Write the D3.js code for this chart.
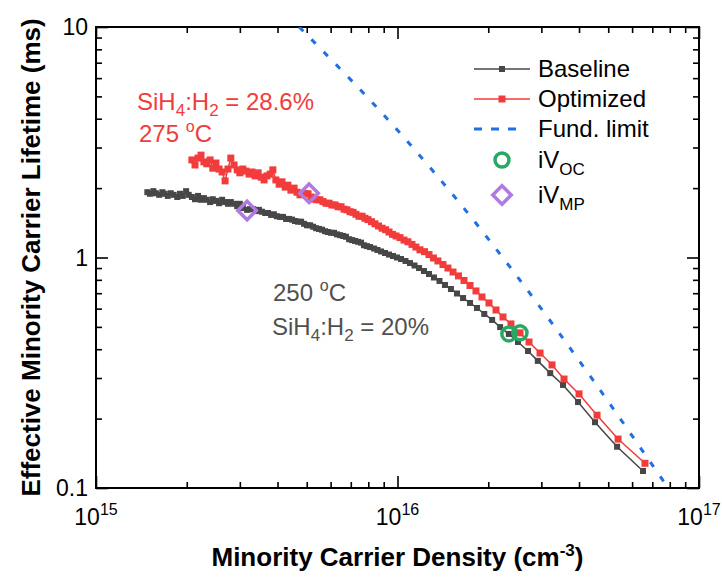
<!DOCTYPE html>
<html>
<head>
<meta charset="utf-8">
<script src="https://cdn.jsdelivr.net/npm/d3@7"></script>
<style>
  html, body { margin: 0; padding: 0; background: #fff; }
  svg { display: block; font-family: "Liberation Sans", Arial, Helvetica, sans-serif; }
</style>
</head>
<body>
<svg id="chart" width="722" height="581"></svg>
<script>
// ---- data: minority carrier density (cm^-3) and effective lifetime (ms) ----
const baselineDensity = [
  1.48e15,1.51e15,1.55e15,1.58e15,1.62e15,1.66e15,1.69e15,1.73e15,1.77e15,1.81e15,
  1.86e15,1.90e15,1.94e15,1.99e15,2.03e15,2.08e15,2.13e15,2.18e15,2.23e15,2.28e15,
  2.33e15,2.39e15,2.44e15,2.50e15,2.56e15,2.62e15,2.68e15,2.74e15,2.80e15,2.87e15,
  2.94e15,3.00e15,3.07e15,3.17e15,3.24e15,3.32e15,3.39e15,3.47e15,3.55e15,3.64e15,
  3.72e15,3.81e15,3.89e15,3.98e15,4.08e15,4.17e15,4.27e15,4.37e15,4.47e15,4.57e15,
  4.68e15,4.79e15,4.90e15,5.01e15,5.13e15,5.25e15,5.37e15,5.49e15,5.62e15,5.75e15,
  5.88e15,6.02e15,6.16e15,6.30e15,6.45e15,6.60e15,6.75e15,6.91e15,7.07e15,7.23e15,
  7.40e15,7.57e15,7.74e15,7.92e15,8.11e15,8.36e15,8.58e15,8.82e15,9.09e15,9.37e15,
  9.66e15,9.96e15,1.027e16,1.063e16,1.100e16,1.139e16,1.179e16,1.224e16,1.272e16,1.321e16,
  1.378e16,1.437e16,1.504e16,1.575e16,1.65e16,1.74e16,1.835e16,1.94e16,2.06e16,2.19e16,
  2.34e16,2.51e16,2.71e16,2.92e16,3.21e16,3.54e16,3.97e16,4.52e16,5.35e16,6.52e16
];
const baselineLifetime = [
  1.92,1.89,1.94,1.90,1.87,1.92,1.89,1.85,1.90,1.87,
  1.83,1.89,1.85,1.94,1.87,1.83,1.79,1.85,1.78,1.81,
  1.78,1.74,1.79,1.76,1.72,1.78,1.74,1.71,1.74,1.71,
  1.67,1.71,1.64,1.61,1.62,1.62,1.59,1.61,1.58,1.56,
  1.56,1.53,1.54,1.51,1.50,1.50,1.47,1.47,1.46,1.44,
  1.43,1.43,1.40,1.38,1.38,1.36,1.34,1.33,1.32,1.30,
  1.29,1.28,1.28,1.26,1.25,1.24,1.23,1.20,1.19,1.18,
  1.17,1.16,1.13,1.12,1.11,1.094,1.078,1.062,1.046,1.030,
  1.015,1.000,0.985,0.966,0.946,0.923,0.900,0.874,0.848,0.819,
  0.791,0.760,0.730,0.698,0.667,0.635,0.604,0.569,0.536,0.499,
  0.466,0.430,0.393,0.356,0.315,0.280,0.236,0.193,0.151,0.1185
];

const optimizedDensity = [
  2.08e15,2.13e15,2.18e15,2.23e15,2.28e15,2.33e15,2.39e15,2.44e15,2.50e15,2.56e15,
  2.62e15,2.68e15,2.74e15,2.80e15,2.87e15,2.94e15,3.00e15,3.07e15,3.14e15,3.22e15,
  3.29e15,3.37e15,3.45e15,3.53e15,3.61e15,3.69e15,3.78e15,3.86e15,3.95e15,4.05e15,
  4.14e15,4.24e15,4.33e15,4.43e15,4.54e15,4.64e15,4.75e15,4.82e15,4.94e15,5.05e15,
  5.17e15,5.29e15,5.41e15,5.53e15,5.66e15,5.79e15,5.93e15,6.06e15,6.21e15,6.35e15,
  6.50e15,6.65e15,6.80e15,6.96e15,7.12e15,7.28e15,7.45e15,7.63e15,7.80e15,7.98e15,
  8.20e15,8.42e15,8.65e15,8.89e15,9.13e15,9.37e15,9.63e15,9.89e15,1.019e16,1.051e16,
  1.083e16,1.117e16,1.151e16,1.187e16,1.229e16,1.272e16,1.316e16,1.362e16,1.415e16,1.470e16,
  1.528e16,1.593e16,1.662e16,1.740e16,1.821e16,1.907e16,2.011e16,2.122e16,2.238e16,2.379e16,
  2.549e16,2.730e16,2.970e16,3.255e16,3.567e16,4.00e16,4.59e16,5.39e16,6.62e16
];
const optimizedLifetime = [
  2.65,2.52,2.70,2.78,2.60,2.55,2.65,2.44,2.57,2.42,
  2.35,2.15,2.42,2.70,2.52,2.40,2.33,2.42,2.37,2.30,
  2.35,2.26,2.33,2.23,2.17,2.26,2.30,2.40,2.17,2.08,
  2.13,2.02,2.06,1.96,2.00,1.92,1.87,1.90,1.89,1.89,
  1.83,1.79,1.78,1.78,1.75,1.72,1.72,1.69,1.69,1.66,
  1.66,1.62,1.61,1.58,1.57,1.54,1.51,1.51,1.48,1.46,
  1.43,1.40,1.37,1.34,1.32,1.29,1.26,1.24,1.22,1.19,
  1.17,1.14,1.11,1.08,1.06,1.03,0.995,0.966,0.932,0.900,
  0.865,0.832,0.795,0.756,0.716,0.674,0.635,0.592,0.552,0.515,
  0.471,0.430,0.385,0.342,0.297,0.256,0.207,0.163,0.128
];

// fundamental (intrinsic) lifetime limit
const limitDensity  = [4.72e15, 1.019e16, 1.71e16, 2.36e16, 4.45e16, 7.90e16];
const limitLifetime = [10.0, 3.47, 1.56, 0.910, 0.294, 0.100];

// implied-voltage operating points: [baseline, optimized]
const ivocDensity  = [2.34e16, 2.549e16];
const ivocLifetime = [0.466, 0.471];
const ivmpDensity  = [3.17e15, 5.09e15];
const ivmpLifetime = [1.60, 1.90];

// axis ticks
const xTickValues    = [1e15, 1e16, 1e17];
const xTickExponents = ["15", "16", "17"];
const yTickValues    = [0.1, 1, 10];
const yTickLabels    = ["0.1", "1", "10"];

// legend
const legendLabels = ["Baseline", "Optimized", "Fund. limit", "iV", "iV"];
const legendSubs   = ["", "", "", "OC", "MP"];

// ---- styling ----
const GRAY = "#474747", RED = "#f23c3c", BLUE = "#1f6fe5", GREEN = "#28a862", PURPLE = "#b07ae0";

const svg = d3.select("#chart");
const L = 96, R = 699, T = 27, B = 488;
const x = d3.scaleLog().domain([1e15, 1e17]).range([L, R]);
const y = d3.scaleLog().domain([0.1, 10]).range([B, T]);

// clip region for the plotted curves
svg.append("defs").append("clipPath").attr("id", "plotclip")
  .append("rect").attr("x", L).attr("y", T).attr("width", R - L).attr("height", B - T);

// ---- ticks (inward, mirrored on all four sides) ----
const xMinor = x.ticks().filter(v => !xTickValues.includes(v));
const yMinor = y.ticks().filter(v => !yTickValues.some(t => Math.abs(t - v) < 1e-9));

function tickSet(axisFn, scale, values, size, tr) {
  const g = svg.append("g").attr("transform", tr)
    .call(axisFn(scale).tickValues(values).tickSize(size).tickSizeOuter(0).tickFormat(""));
  g.select(".domain").remove();
  g.selectAll("line").attr("stroke", "#000").attr("stroke-width", 1.6);
}
tickSet(d3.axisBottom, x, xTickValues, -12, `translate(0,${B})`);
tickSet(d3.axisBottom, x, xMinor, -6, `translate(0,${B})`);
tickSet(d3.axisTop, x, xTickValues, -12, `translate(0,${T})`);
tickSet(d3.axisTop, x, xMinor, -6, `translate(0,${T})`);
tickSet(d3.axisLeft, y, yTickValues, -12, `translate(${L},0)`);
tickSet(d3.axisLeft, y, yMinor, -6, `translate(${L},0)`);
tickSet(d3.axisRight, y, yTickValues, -12, `translate(${R},0)`);
tickSet(d3.axisRight, y, yMinor, -6, `translate(${R},0)`);

svg.append("rect").attr("x", L).attr("y", T).attr("width", R - L).attr("height", B - T)
  .attr("fill", "none").attr("stroke", "#000").attr("stroke-width", 2);

// ---- tick labels ----
yTickValues.forEach((v, i) => {
  svg.append("text").attr("x", L - 8).attr("y", y(v)).attr("dy", "0.35em")
    .attr("text-anchor", "end").attr("font-size", 23).attr("fill", "#000").text(yTickLabels[i]);
});
xTickValues.forEach((v, i) => {
  const t = svg.append("text").attr("x", x(v)).attr("y", 525)
    .attr("text-anchor", "middle").attr("font-size", 23).attr("fill", "#000");
  t.append("tspan").text("10");
  t.append("tspan").attr("font-size", 16).attr("dy", -10).text(xTickExponents[i]);
});

// ---- axis titles ----
const xt = svg.append("text").attr("x", (L + R) / 2).attr("y", 566).attr("text-anchor", "middle")
  .attr("font-size", 26).attr("font-weight", "bold").attr("fill", "#000");
xt.append("tspan").text("Minority Carrier Density (cm");
xt.append("tspan").attr("font-size", 17).attr("dy", -10).text("-3");
xt.append("tspan").attr("dy", 10).text(")");

svg.append("text").attr("transform", `translate(40,${(T + B) / 2}) rotate(-90)`)
  .attr("text-anchor", "middle").attr("font-size", 26).attr("font-weight", "bold").attr("fill", "#000")
  .text("Effective Minority Carrier Lifetime (ms)");

// ---- curves ----
const plot = svg.append("g").attr("clip-path", "url(#plotclip)");
const line = d3.line().x(d => x(d[0])).y(d => y(d[1]));

function series(dens, life, color, size) {
  const pts = dens.map((d, i) => [d, life[i]]);
  plot.append("path").datum(pts).attr("d", line)
    .attr("fill", "none").attr("stroke", color).attr("stroke-width", 1.5);
  plot.append("g").selectAll("rect").data(pts).join("rect")
    .attr("x", d => x(d[0]) - size / 2).attr("y", d => y(d[1]) - size / 2)
    .attr("width", size).attr("height", size).attr("fill", color);
}
series(baselineDensity, baselineLifetime, GRAY, 6);
series(optimizedDensity, optimizedLifetime, RED, 7);

const limitPts = limitDensity.map((d, i) => [d, limitLifetime[i]]);
plot.append("path").datum(limitPts)
  .attr("d", d3.line().x(d => x(d[0])).y(d => y(d[1])).curve(d3.curveMonotoneX))
  .attr("fill", "none").attr("stroke", BLUE).attr("stroke-width", 3)
  .attr("stroke-dasharray", "6,11.5");

// iVoc circles
plot.append("g").selectAll("circle").data(ivocDensity.map((d, i) => [d, ivocLifetime[i]])).join("circle")
  .attr("cx", d => x(d[0])).attr("cy", d => y(d[1])).attr("r", 7)
  .attr("fill", "none").attr("stroke", GREEN).attr("stroke-width", 3.5);

// iVmp diamonds
const diamond = d3.symbol().type(d3.symbolSquare).size(170);
plot.append("g").selectAll("path").data(ivmpDensity.map((d, i) => [d, ivmpLifetime[i]])).join("path")
  .attr("d", diamond)
  .attr("transform", d => `translate(${x(d[0])},${y(d[1])}) rotate(45)`)
  .attr("fill", "none").attr("stroke", PURPLE).attr("stroke-width", 3.5);

// ---- annotations ----
function sihText(xp, yp, color, value) {
  const t = svg.append("text").attr("x", xp).attr("y", yp).attr("font-size", 24).attr("fill", color);
  t.append("tspan").text("SiH");
  t.append("tspan").attr("font-size", 17).attr("dy", 6).text("4");
  t.append("tspan").attr("dy", -6).text(":H");
  t.append("tspan").attr("font-size", 17).attr("dy", 6).text("2");
  t.append("tspan").attr("dy", -6).text(" = " + value);
}
function tempText(xp, yp, color, value) {
  const t = svg.append("text").attr("x", xp).attr("y", yp).attr("font-size", 24).attr("fill", color);
  t.append("tspan").text(value + " ");
  t.append("tspan").attr("font-size", 16).attr("dy", -10).text("o");
  t.append("tspan").attr("dy", 10).text("C");
}
sihText(137, 110, RED, "28.6%");
tempText(139, 142, RED, "275");
tempText(273, 301, "#505050", "250");
sihText(272, 335, "#505050", "20%");

// ---- legend ----
const legRows = [69, 99, 129, 160, 195];
const lg = svg.append("g");
lg.append("line").attr("x1", 474).attr("x2", 530).attr("y1", legRows[0]).attr("y2", legRows[0])
  .attr("stroke", GRAY).attr("stroke-width", 1.5);
lg.append("rect").attr("x", 499).attr("y", legRows[0] - 3).attr("width", 6).attr("height", 6).attr("fill", GRAY);
lg.append("line").attr("x1", 474).attr("x2", 530).attr("y1", legRows[1]).attr("y2", legRows[1])
  .attr("stroke", RED).attr("stroke-width", 1.5);
lg.append("rect").attr("x", 498.5).attr("y", legRows[1] - 3.5).attr("width", 7).attr("height", 7).attr("fill", RED);
lg.append("line").attr("x1", 474).attr("x2", 516).attr("y1", legRows[2]).attr("y2", legRows[2])
  .attr("stroke", BLUE).attr("stroke-width", 3).attr("stroke-dasharray", "8,9");
lg.append("circle").attr("cx", 502).attr("cy", legRows[3]).attr("r", 7)
  .attr("fill", "none").attr("stroke", GREEN).attr("stroke-width", 3.5);
lg.append("path").attr("d", diamond).attr("transform", `translate(502,${legRows[4]}) rotate(45)`)
  .attr("fill", "none").attr("stroke", PURPLE).attr("stroke-width", 3.5);

legendLabels.forEach((lab, i) => {
  const t = lg.append("text").attr("x", 538).attr("y", legRows[i]).attr("dy", "0.35em")
    .attr("font-size", 24).attr("fill", "#000");
  t.append("tspan").text(lab);
  if (legendSubs[i]) t.append("tspan").attr("font-size", 17).attr("dy", 7).text(legendSubs[i]);
});
</script>
</body>
</html>
